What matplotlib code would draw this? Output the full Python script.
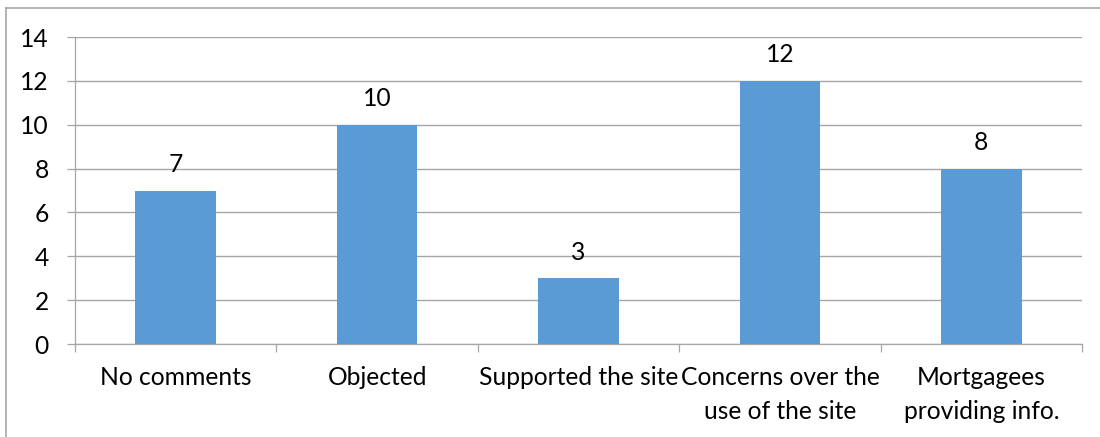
import matplotlib.pyplot as plt

categories = ["No comments", "Objected", "Supported the site",
              "Concerns over the\nuse of the site", "Mortgagees\nproviding info."]
counts = [7, 10, 3, 12, 8]
y_ticks = [0, 2, 4, 6, 8, 10, 12, 14]

plt.rcParams["font.family"] = ["Lato", "DejaVu Sans"]
FS = 17.7
GREY = "#a6a6a6"

fig = plt.figure(figsize=(11, 4.37), dpi=100)
ax = fig.add_axes([0.0682, 0.2128, 0.9155, 0.7025])

x = range(len(categories))
ax.bar(x, counts, width=0.4, color="#5B9BD5", zorder=3)
for xi, v in zip(x, counts):
    ax.text(xi, v + 0.85, str(v), ha="center", va="baseline", fontsize=FS)

ax.set_xlim(-0.5, len(categories) - 0.5)
ax.set_ylim(0, 14)
ax.set_yticks(y_ticks)
ax.yaxis.grid(True, color=GREY, linewidth=1, zorder=0)

# category labels sit between boundary ticks
ax.set_xticks(list(x))
ax.set_xticklabels(categories, fontsize=FS, linespacing=1.55)
ax.tick_params(axis="x", length=0, pad=16)
ax.set_xticks([i - 0.5 for i in range(len(categories) + 1)], minor=True)
ax.tick_params(axis="x", which="minor", length=5.8, color=GREY, width=0.9)
ax.tick_params(axis="y", length=5.8, color=GREY, width=0.9, labelsize=FS, pad=13)

for side in ["top", "right"]:
    ax.spines[side].set_visible(False)
for side in ["left", "bottom"]:
    ax.spines[side].set_color(GREY)
    ax.spines[side].set_linewidth(0.9)

# outer chart frame (left and top edges visible)
fig.add_artist(plt.Line2D([6 / 1100, 6 / 1100], [0, 1 - 8 / 437],
                          transform=fig.transFigure, color=GREY, linewidth=1.2))
fig.add_artist(plt.Line2D([6 / 1100, 1], [1 - 8 / 437, 1 - 8 / 437],
                          transform=fig.transFigure, color=GREY, linewidth=1.2))

fig.savefig("out.png", dpi=100)
